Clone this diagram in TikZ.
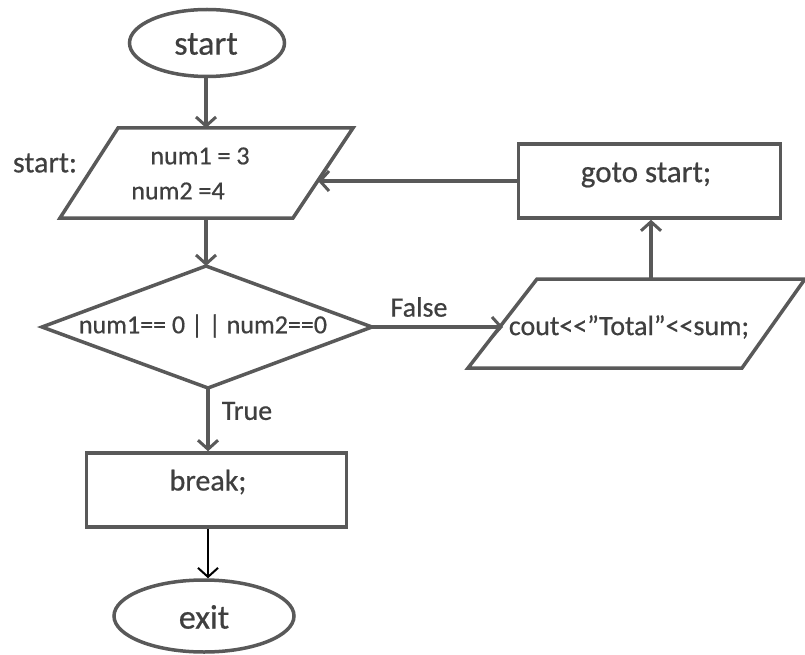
\documentclass[tikz,border=0pt]{standalone}
\usepackage{fontspec}
\setmainfont{Carlito}[Ligatures=TeXOff]
\newfontfamily\heavy{Carlito}[Ligatures=TeXOff,FakeBold=0.6]
\usetikzlibrary{arrows.meta,shapes.geometric}
\definecolor{ln}{HTML}{595959}
\definecolor{tx}{HTML}{3F3F3F}
\begin{document}
\begin{tikzpicture}[x=1pt,y=-1pt,
  shp/.style={draw=ln,line width=3.5pt,fill=white},
  txt/.style={text=tx,inner sep=0pt,font=\heavy\fontsize{#1}{#1}\selectfont},
  arr/.style={draw=ln,line width=3.5pt,-{Straight Barb[length=9pt,width=20pt,line width=3pt]}},
  arrb/.style={draw=black,line width=1.8pt,-{Straight Barb[length=9pt,width=20pt,line width=2pt]}}]
\useasboundingbox (0,0) rectangle (805,655);
% start ellipse
\node[shp,ellipse,minimum width=155pt,minimum height=67pt,inner sep=0pt] (st) at (207,43) {};
\node[txt=34] (stt) at (206,44) {start};
% parallelogram 1
\draw[shp] (118,128) -- (353,128) -- (293,218) -- (60,218) -- cycle;
\coordinate (p1t) at (206,128);
\coordinate (p1b) at (206,218);
\coordinate (p1r) at (318,181);
\node[txt=26] (n1) at (200,156) {num1 = 3};
\node[txt=26] (n2) at (178,191) {num2 =4};
\node[txt=30] (lbl) at (45,163) {start:};
% diamond
\draw[shp] (206,266) coordinate (dt) -- (372,327) coordinate (dr) -- (208,388) coordinate (db) -- (42,327) -- cycle;
\node[txt=26] (dtx) at (203,326) {num1== 0 | | num2==0};
% parallelogram 2
\draw[shp] (537,279) -- (805,279) -- (742,368) -- (468,368) -- cycle;
\coordinate (p2t) at (651,279);
\coordinate (p2l) at (503,327);
\node[txt=28] (ctx) at (629,327) {cout<<”Total”<<sum;};
% goto box
\node[shp,minimum width=262pt,minimum height=74pt,inner sep=0pt] (gb) at (649.5,181) {};
\node[txt=31] (gt) at (646,175) {goto start;};
% break box
\node[shp,minimum width=260pt,minimum height=74pt,inner sep=0pt] (bb) at (216.5,490) {};
\node[txt=30] (bt) at (208,482) {break;};
% exit ellipse
\node[shp,ellipse,minimum width=180pt,minimum height=72pt,inner sep=0pt] (ex) at (204,616) {};
\node[txt=34] (ext) at (204,617) {exit};
% labels
\node[txt=28] (fl) at (419,307) {False};
\node[txt=28] (tl) at (247,411) {True};
% connectors
\draw[arr] (st.south -| p1t) -- (p1t);
\draw[arr] (p1b) -- (dt);
\draw[arr] (dr) -- (p2l);
\draw[arr] (db) -- (bb.north -| db);
\draw[arrb] (bb.south -| db) -- (ex.north -| db);
\draw[arr] (p2t) -- (p2t |- gb.south);
\draw[arr] (gb.west) -- (p1r);
\end{tikzpicture}
\end{document}
